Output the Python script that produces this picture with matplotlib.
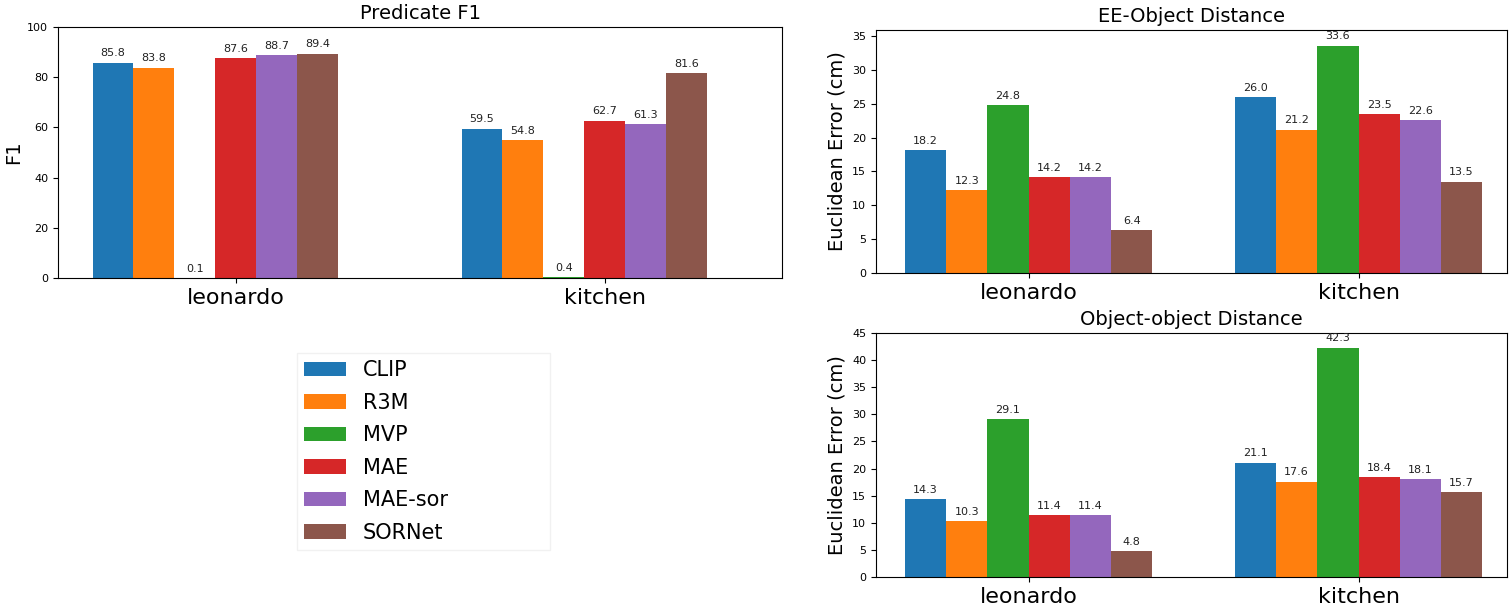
import numpy as np
import matplotlib
matplotlib.use("Agg")
import matplotlib.pyplot as plt

methods = ['CLIP', 'R3M', 'MVP', 'MAE', 'MAE-sor', 'SORNet']
envs = ['leonardo', 'kitchen']

# predicate F1, one list per method: [leonardo, kitchen]
f1 = {
    'CLIP': [85.8, 59.5],
    'R3M': [83.8, 54.8],
    'MVP': [0.1, 0.4],
    'MAE': [87.6, 62.7],
    'MAE-sor': [88.7, 61.3],
    'SORNet': [89.4, 81.6],
}
ee_dist = {
    'CLIP': [18.2, 26.0],
    'R3M': [12.3, 21.2],
    'MVP': [24.8, 33.6],
    'MAE': [14.2, 23.5],
    'MAE-sor': [14.2, 22.6],
    'SORNet': [6.4, 13.5],
}
oo_dist = {
    'CLIP': [14.3, 21.1],
    'R3M': [10.3, 17.6],
    'MVP': [29.1, 42.3],
    'MAE': [11.4, 18.4],
    'MAE-sor': [11.4, 18.1],
    'SORNet': [4.8, 15.7],
}

colors = plt.rcParams['axes.prop_cycle'].by_key()['color']
W, H = 1510, 606
fig = plt.figure(figsize=(W / 100, H / 100), dpi=100)


def px_axes(x0, y0, x1, y1):
    return fig.add_axes([x0 / W, 1 - y1 / H, (x1 - x0) / W, (y1 - y0) / H])


def grouped(ax, data, width, shift, title, ylabel, yticks, ylim, xlim):
    x = np.arange(len(envs))
    handles = []
    for i, m in enumerate(methods):
        b = ax.bar(x + (i - shift) * width, data[m], width, label=m, color=colors[i])
        ax.bar_label(b, fmt='%.1f', padding=3, fontsize=8, color='#222222')
        handles.append(b)
    ax.set_xticks(x)
    ax.set_xticklabels(envs, fontsize=16)
    ax.set_yticks(yticks)
    ax.tick_params(axis='y', labelsize=8)
    ax.set_ylim(*ylim)
    ax.set_xlim(*xlim)
    ax.set_title(title, fontsize=14)
    ax.set_ylabel(ylabel, fontsize=14)
    return handles


ax1 = px_axes(58, 27, 782, 278)
handles = grouped(ax1, f1, 0.111, 3, 'Predicate F1', 'F1',
                  np.arange(0, 101, 20), (0, 100), (-0.482, 1.48))
ax1.yaxis.set_label_coords(-0.048, 0.5)

ax2 = px_axes(876, 30, 1507, 273)
grouped(ax2, ee_dist, 0.125, 2.5, 'EE-Object Distance', 'Euclidean Error (cm)',
        np.arange(0, 36, 5), (0, 35.9), (-0.4625, 1.45))

ax3 = px_axes(876, 333, 1507, 577)
grouped(ax3, oo_dist, 0.125, 2.5, 'Object-object Distance', 'Euclidean Error (cm)',
        np.arange(0, 46, 5), (0, 45), (-0.4625, 1.45))

fig.legend(handles, methods, loc='upper left',
           bbox_to_anchor=(297 / W, 1 - 353 / H, 253 / W, 0.0), mode='expand',
           borderaxespad=0, fontsize=15, labelspacing=0.6, borderpad=0.35,
           handlelength=2.0, handletextpad=0.8, fancybox=False, edgecolor='#eeeeee')

fig.savefig('out.png', dpi=100)
